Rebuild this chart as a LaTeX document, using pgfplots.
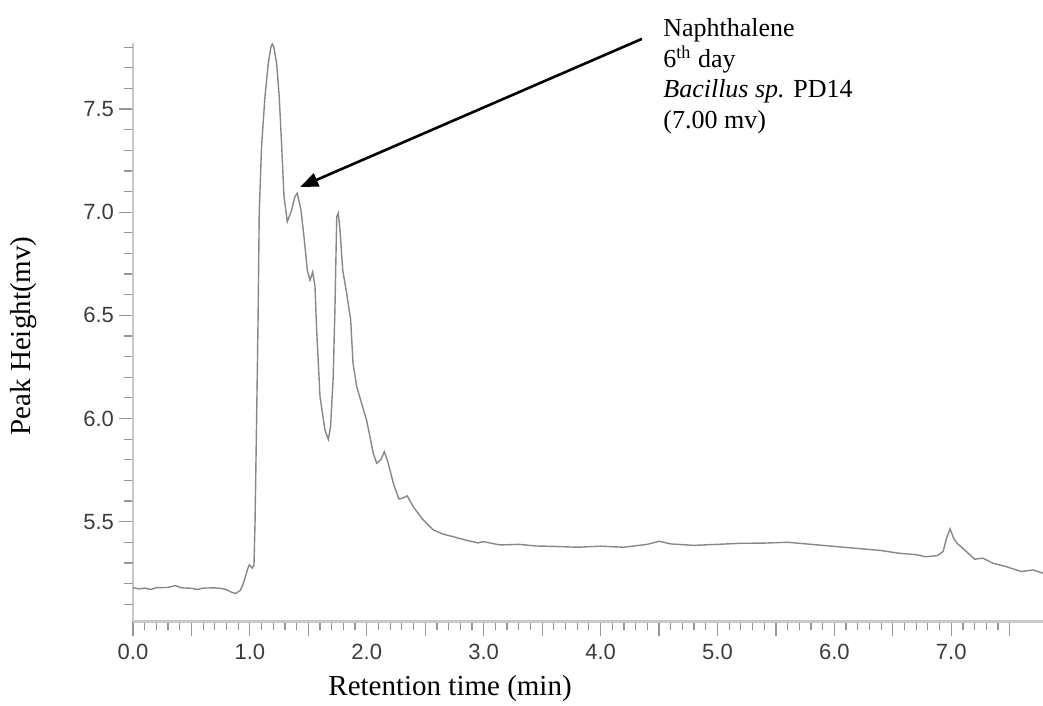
\documentclass[border=0pt]{standalone}
\usepackage{fontspec}
\setmainfont{Liberation Serif}
\newfontfamily\arialfont{Liberation Sans}
\usepackage{pgfplots}
\pgfplotsset{compat=1.18}
\usetikzlibrary{arrows.meta}

\definecolor{trace}{RGB}{135,135,135}
\definecolor{axisgray}{RGB}{200,200,200}
\definecolor{tickgray}{RGB}{150,150,150}
\definecolor{ticktext}{RGB}{60,60,60}

\pgfplotstableread{
t     h
0.00  5.180
0.05  5.174
0.10  5.178
0.15  5.171
0.20  5.180
0.30  5.181
0.36  5.190
0.42  5.179
0.50  5.177
0.55  5.171
0.60  5.178
0.70  5.179
0.76  5.176
0.80  5.170
0.85  5.156
0.88  5.152
0.92  5.168
0.95  5.210
0.98  5.270
0.995 5.290
1.02  5.275
1.035 5.290
1.044 5.494
1.058 6.010
1.070 6.480
1.080 7.000
1.100 7.320
1.129 7.560
1.157 7.720
1.180 7.800
1.192 7.815
1.205 7.800
1.229 7.720
1.251 7.560
1.272 7.320
1.292 7.075
1.320 6.954
1.357 7.010
1.385 7.075
1.405 7.092
1.437 7.010
1.463 6.880
1.491 6.720
1.514 6.670
1.537 6.710
1.557 6.640
1.571 6.430
1.600 6.106
1.642 5.944
1.671 5.899
1.690 5.960
1.713 6.203
1.728 6.542
1.743 6.978
1.756 6.995
1.771 6.914
1.794 6.720
1.828 6.607
1.862 6.478
1.882 6.270
1.914 6.154
1.999 5.990
2.056 5.830
2.085 5.783
2.120 5.800
2.150 5.839
2.180 5.790
2.230 5.680
2.275 5.610
2.310 5.615
2.346 5.625
2.400 5.570
2.480 5.510
2.569 5.460
2.650 5.440
2.740 5.427
2.850 5.410
2.951 5.397
2.997 5.403
3.140 5.387
3.300 5.390
3.450 5.382
3.600 5.380
3.800 5.376
4.000 5.381
4.200 5.376
4.400 5.390
4.500 5.405
4.600 5.392
4.800 5.385
5.000 5.390
5.200 5.395
5.400 5.396
5.600 5.400
5.800 5.390
6.000 5.380
6.200 5.370
6.400 5.360
6.550 5.347
6.700 5.340
6.780 5.330
6.880 5.335
6.930 5.355
6.960 5.420
6.990 5.465
7.020 5.420
7.050 5.395
7.100 5.370
7.200 5.318
7.270 5.323
7.360 5.298
7.470 5.282
7.600 5.258
7.700 5.266
7.785 5.250
}\chroma

\begin{document}
\begin{tikzpicture}
\begin{axis}[
  width=455pt, height=289.25pt, scale only axis,
  xmin=0, xmax=7.785, ymin=5.016, ymax=7.82,
  axis x line=bottom, axis y line=left,
  axis line style={-, draw=axisgray, line width=1.3pt},
  clip=false,
  tick align=outside,
  major tick length=7pt, minor tick length=4.5pt,
  every tick/.style={draw=tickgray, line width=0.6pt},
  xtick={0,0.5,1,1.5,2,2.5,3,3.5,4,4.5,5,5.5,6,6.5,7,7.5},
  xticklabels={0.0,,1.0,,2.0,,3.0,,4.0,,5.0,,6.0,,7.0,},
  minor x tick num=4,
  ytick={5.5,6,6.5,7,7.5},
  yticklabels={5.5,6.0,6.5,7.0,7.5},
  minor y tick num=4,
  extra y ticks={5.1,5.2,5.3,5.4,7.6,7.7,7.8},
  extra y tick labels={},
  extra y tick style={major tick length=4.5pt},
  tick label style={font=\arialfont\fontsize{11}{13}\selectfont, text=ticktext},
  xticklabel style={yshift=-1pt},
  yticklabel style={xshift=1pt},
]
\addplot[trace, line width=0.7pt] table[x=t, y=h] {\chroma};

\draw[-{Triangle[length=9pt,width=7pt]}, line width=1.3pt, black]
  (axis cs:4.354,7.84) -- (axis cs:1.43,7.122);
\node[anchor=north west, inner sep=0pt, align=left,
      font=\fontsize{13}{15.3}\selectfont]
  at (rel axis cs:0.5824,1.0432)
  {Naphthalene\\6\textsuperscript{th} day\\\textit{Bacillus sp.} PD14\\(7.00 mv)};
\node[rotate=90, font=\fontsize{14.5}{16}\selectfont]
  at (rel axis cs:-0.1198,0.4935) {Peak Height(mv)};
\node[font=\fontsize{14.5}{16}\selectfont]
  at (rel axis cs:0.3484,-0.1167) {Retention time (min)};

\coordinate (bl) at (rel axis cs:-0.14615,-0.14607);
\coordinate (tr) at (rel axis cs:1,1.07433);
\end{axis}
\pgfresetboundingbox
\useasboundingbox (bl) rectangle (tr);
\end{tikzpicture}
\end{document}
